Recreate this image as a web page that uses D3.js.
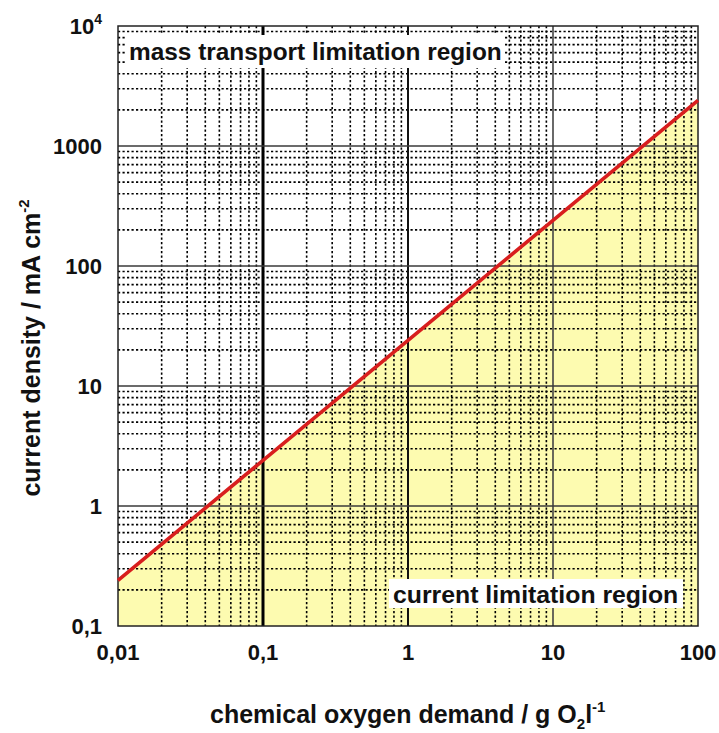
<!DOCTYPE html>
<html>
<head>
<meta charset="utf-8">
<script src="https://cdn.jsdelivr.net/npm/d3@7"></script>
<style>
  html, body { margin: 0; padding: 0; background: #ffffff; }
  svg { display: block; font-family: "Liberation Sans", Arial, sans-serif; font-weight: bold; }
</style>
</head>
<body>
<svg id="chart" width="719" height="733"></svg>
<script>
// ---- data ----
const codValues = [0.01, 0.1, 1, 10, 100];            // chemical oxygen demand, g O2 / l
const currentDensity = [0.24, 2.4, 24, 240, 2400];    // current density, mA / cm^2
const xTickValues = [0.01, 0.1, 1, 10, 100];
const xTickLabels = ["0,01", "0,1", "1", "10", "100"];
const yTickValues = [0.1, 1, 10, 100, 1000, 10000];
const yTickLabels = ["0,1", "1", "10", "100", "1000", "10^4"];
const regionLabels = ["mass transport limitation region", "current limitation region"];

// ---- layout ----
const L = 118, R = 698, T = 26, B = 626;
const svg = d3.select("#chart");
const x = d3.scaleLog().domain([0.01, 100]).range([L, R]);
const y = d3.scaleLog().domain([0.1, 10000]).range([B, T]);
const pts = codValues.map((v, i) => ({ x: v, y: currentDensity[i] }));

// yellow area under the line
svg.append("path")
  .datum(pts)
  .attr("fill", "#fdfbb0")
  .attr("d", d3.area().x(d => x(d.x)).y0(y(0.1)).y1(d => y(d.y)));

// minor grid
const isDecade = v => Math.abs(Math.log10(v) - Math.round(Math.log10(v))) < 1e-9;
const xMinor = x.ticks().filter(v => !isDecade(v));
const yMinor = y.ticks().filter(v => !isDecade(v));
const minor = svg.append("g")
  .attr("stroke", "#000").attr("stroke-width", 1.6)
  .attr("stroke-dasharray", "2.2,2.3");
minor.selectAll("line.vx").data(xMinor).join("line")
  .attr("x1", d => x(d)).attr("x2", d => x(d)).attr("y1", T).attr("y2", B);
minor.selectAll("line.hy").data(yMinor).join("line")
  .attr("y1", d => y(d)).attr("y2", d => y(d)).attr("x1", L).attr("x2", R);

// major grid
const xMajorStyle = { 0.1: [3, "#000"], 1: [2, "#111"], 10: [1.6, "#444"] };
svg.append("g").selectAll("line").data(xTickValues.filter(v => v > 0.01 && v < 100)).join("line")
  .attr("x1", d => x(d)).attr("x2", d => x(d)).attr("y1", T).attr("y2", B)
  .attr("stroke", d => xMajorStyle[d][1]).attr("stroke-width", d => xMajorStyle[d][0]);
svg.append("g").selectAll("line").data(yTickValues.filter(v => v > 0.1 && v < 10000)).join("line")
  .attr("y1", d => y(d)).attr("y2", d => y(d)).attr("x1", L).attr("x2", R)
  .attr("stroke", "#3a3a3a").attr("stroke-width", 1.6);

// frame
svg.append("rect").attr("x", L).attr("y", T).attr("width", R - L).attr("height", B - T)
  .attr("fill", "none").attr("stroke", "#222").attr("stroke-width", 1.5);

// red line
svg.append("path")
  .datum(pts)
  .attr("fill", "none").attr("stroke", "#d81e1e").attr("stroke-width", 3.6)
  .attr("d", d3.line().x(d => x(d.x)).y(d => y(d.y)));

// region labels with white boxes
svg.append("rect").attr("x", 125).attr("y", 35).attr("width", 378).attr("height", 33).attr("fill", "#fff");
svg.append("text").attr("x", 129).attr("y", 60).attr("font-size", 24.4).attr("fill", "#111")
  .text(regionLabels[0]);
svg.append("rect").attr("x", 389).attr("y", 579).attr("width", 294).attr("height", 29).attr("fill", "#fff");
svg.append("text").attr("x", 393).attr("y", 603).attr("font-size", 24.8).attr("fill", "#111")
  .text(regionLabels[1]);

// y tick labels
const yl = svg.append("g").attr("font-size", 22).attr("fill", "#111");
yTickValues.forEach((v, i) => {
  const lab = yTickLabels[i];
  if (lab.includes("^")) {
    const [base, exp] = lab.split("^");
    const t = yl.append("text").attr("x", 102).attr("y", y(v) + 8).attr("text-anchor", "end");
    t.append("tspan").text(base);
    t.append("tspan").attr("font-size", 14).attr("dy", -10).text(exp);
  } else {
    yl.append("text").attr("x", 102).attr("y", y(v) + 8).attr("text-anchor", "end").text(lab);
  }
});

// x tick labels
const xl = svg.append("g").attr("font-size", 22).attr("fill", "#111");
xTickValues.forEach((v, i) => {
  xl.append("text").attr("x", x(v)).attr("y", 660).attr("text-anchor", "middle").text(xTickLabels[i]);
});

// axis titles
const xt = svg.append("text").attr("x", 210).attr("y", 723).attr("font-size", 25).attr("fill", "#111");
xt.append("tspan").text("chemical oxygen demand / g O");
xt.append("tspan").attr("font-size", 15).attr("dy", 6).text("2");
xt.append("tspan").attr("dy", -6).text("l");
xt.append("tspan").attr("font-size", 15).attr("dy", -11).text("-1");

const yt = svg.append("text").attr("transform", "translate(40,348) rotate(-90)")
  .attr("text-anchor", "middle").attr("font-size", 25).attr("fill", "#111");
yt.append("tspan").text("current density / mA cm");
yt.append("tspan").attr("font-size", 15).attr("dy", -11).text("-2");
</script>
</body>
</html>
